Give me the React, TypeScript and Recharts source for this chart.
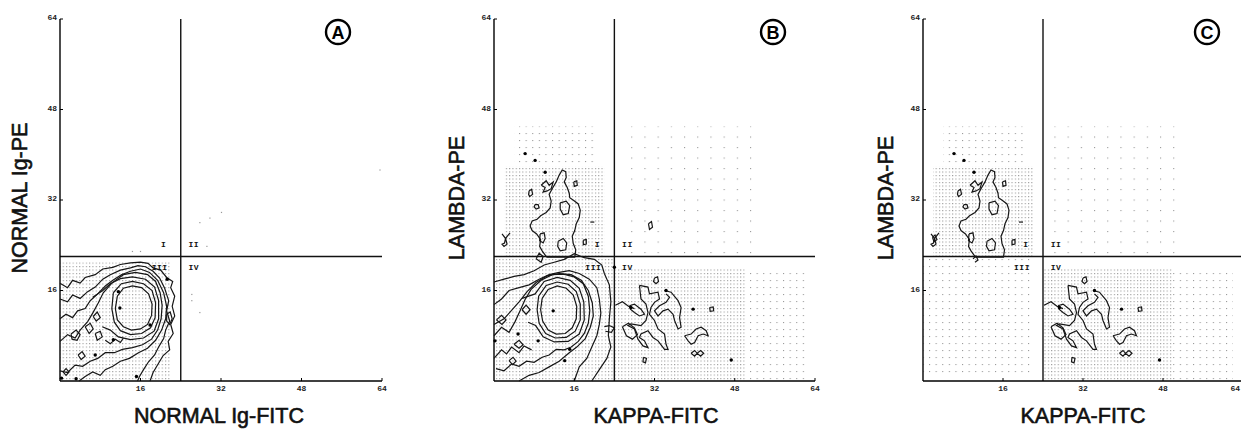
import { ReferenceArea, ReferenceLine, Scatter, ScatterChart, XAxis, YAxis } from "recharts";

type Pt = { x: number; y: number };
const pts = (a: number[][]): Pt[] => a.map(([x, y]) => ({ x, y }));

const xTicks = [16, 32, 48, 64];
const yTicks = [16, 32, 48, 64];
const quadX = 24;
const quadY = 22;

const quadLabels = [
  { x: 20.6, y: 23.7, t: "I" },
  { x: 26.6, y: 23.7, t: "II" },
  { x: 19.8, y: 19.6, t: "III" },
  { x: 26.6, y: 19.6, t: "IV" },
];

// ---- panel A: normal Ig control ----
const contoursA = [
  [[0,17.3],[1.5,16.5],[2.5,17.8],[4,17.3],[5,18.3],[7,18.8],[8.5,19.8],[10.5,20.1],[12,20.6],[14,20.9],[16,21],[17.5,20.8],[18.5,20],[20,19.6],[21.2,18.3],[22.4,17.6],[22,16.5],[22.8,15],[22.3,13.2],[22.8,11.5],[22,10],[22.5,8.4],[21.5,7],[21.8,5.5],[20.5,4.5],[19.5,3],[18.5,1.5],[17.9,0]],
  [[0,14.5],[1.5,14],[2.5,15.2],[4,14.6],[5.5,15.8],[7,16.6],[8.5,18],[10,18.8],[12,19.6],[14,20],[15.5,20.4],[17,20.2],[18.5,19.4],[19.8,18.2],[20.8,16.4],[21.6,14.2],[21.2,12.4],[21.8,10.6],[21,9],[20.6,7.5],[19.6,6],[18.8,4.6],[17.6,3.4],[16.6,2],[15.8,0.8],[15.4,0]],
  [[0,11],[1.2,11.8],[2.5,11.2],[3.5,12.4],[5,12.8],[6,14.2],[7.5,15.4],[9,16.8],[10.5,17.8],[12.2,18.8],[14,19.4],[16,19.8],[17.8,19.2],[19.4,17.8],[20.6,15.6],[21.2,13.2],[21,11],[20.2,9],[19,7.2],[17.4,5.8],[15.6,5],[13.8,4],[12,3.5],[10.5,2.6],[9,2],[8,1],[6.5,1.6],[5,0.8],[3.8,0]],
  [[0,7],[1.5,8.2],[3,7.6],[4,9],[5.5,10.5],[6.5,12],[7.6,13.8],[8.6,15.6],[10.4,17.4],[12.6,18.8],[15,19.2],[17.4,18.8],[19,17.6],[19.9,15.6],[20.3,13.4],[20.1,11],[19.4,9],[18.2,7.4],[16.4,6.4],[14.4,5.9],[12.4,5.6],[10.8,5],[9,5],[7.5,4],[6,3.5],[4.5,2.6],[3,2.8],[1.5,1.5],[0,1.8]],
  [[11.4,15],[12.6,16.4],[14.4,16.8],[16.2,16.5],[17.6,15.4],[18.3,13.6],[18.2,11.6],[17.4,10],[16,9.2],[14.2,9],[12.6,9.6],[11.4,10.8],[11,12.8],[11.4,15]],
  [[10.6,15.6],[12.2,17.2],[14.4,17.6],[16.6,17.2],[18.3,16],[19,13.8],[18.9,11.2],[18,9.4],[16.2,8.4],[14,8.2],[12,8.9],[10.8,10.4],[10.3,12.8],[10.6,15.6]],
  [[6.5,14.8],[8.5,16],[10,17.2],[12,18.1],[14.4,18.4],[17,18],[18.8,16.6],[19.6,14.2],[19.6,11],[18.7,8.8],[16.6,7.6],[14,7.3],[11.6,7.8],[10,9],[8.4,9.6]],
  [[2.2,8.3],[3.2,9],[4,8.2],[3.4,7.2],[2.4,7.4],[2.2,8.3]],
  [[5,9.6],[6,10.2],[6.6,9.2],[5.8,8.4],[5,9.6]],
  [[7,8.4],[8,8.8],[8.4,7.8],[7.4,7.2],[7,8.4]],
  [[6.6,11.4],[7.4,12.2],[8,11.2],[7.2,10.6],[6.6,11.4]],
  [[0.6,1.6],[1.2,2.2],[1.8,1.6],[1.2,1],[0.6,1.6]],
  [[3.6,4.6],[4.4,5.2],[5,4.4],[4.2,3.8],[3.6,4.6]],
  [[21.2,11.8],[21.9,12.2],[22.3,11],[21.8,10],[21.2,10.6],[21.2,11.8]],
  [[9,7.2],[10,6.6],[11,7.4],[12,6.8],[12.6,7.6]],
].map(pts);

const dotsA = pts([[11.9,12.9],[11.6,15.8],[15.2,0.8],[17.9,9.9],[10.6,7.3],[21.3,18],[3.2,0.4],[0.3,0.5],[7,4.6]]);
const faintA = pts([[27.8,28],[29.8,28.8],[32.1,29.8],[29.2,23.8],[26.2,15.3],[26.2,14.2],[27.8,12.1],[63.6,37.3],[14.4,22.9],[16,22.9]]);
const stippleA = [{ x1: 0, x2: 22, y1: 0, y2: 21, d: "dense" }];

// ---- shared lambda (quadrant I) and kappa (quadrant IV) clusters ----
const lambdaCluster = [
  [[10.5,21.9],[9.6,23],[9.1,23.8],[9.3,25],[8.5,26],[7.6,26.6],[7.2,27.4],[7.6,28.3],[8.6,28.6],[9.3,29.2],[10.4,29.8],[11.2,30.6],[11.4,31.8],[11,33],[11.6,34],[12.4,35.2],[13,36.4],[13.6,37.3],[14.3,37],[14.4,36],[14,35.2],[14.6,34.2],[15,33.2],[15.1,32.4],[15.9,31.9],[16.8,31.3],[17.2,30.2],[17,28.9],[16.4,27.8],[16.1,26.6],[15.6,25.6],[15.8,24.3],[16.3,23.2],[16.1,21.9],[10.5,21.9]],
  [[9.4,34.6],[10.4,35.4],[11,34.6],[11.8,35.2],[11.4,34],[10.6,33.6],[9.8,33.4],[10.2,34.2],[9.4,34.6]],
  [[13.2,31.5],[14.4,31.8],[15.1,31],[14.8,29.6],[13.8,29.4],[13.2,30.4],[13.2,31.5]],
  [[12.8,24.7],[13.8,25.2],[14.5,24.4],[14.3,23.2],[13.2,23],[12.7,23.8],[12.8,24.7]],
  [[9.2,26],[10,26.2],[10.2,25.2],[9.8,24.4],[9.1,24.8],[9.2,26]],
  [[8.2,31.2],[8.8,31.2],[9,30.6],[8.4,30.4],[8,30.8],[8.2,31.2]],
  [[7,33.6],[7.5,33.9],[7.7,33],[7.1,32.6],[6.9,33],[7,33.6]],
  [[15.9,35.2],[16.5,35.4],[16.6,34.6],[16,34.4],[15.9,35.2]],
  [[17.8,24.9],[18.4,25],[18.4,24.2],[17.8,24.1],[17.8,24.9]],
  [[1.6,26],[2.3,25.2],[3.2,26.2]],
  [[2.3,25.2],[2.1,24.4],[1.6,24.2],[2,23.8],[2.6,24.2],[2.3,25.2]],
  [[19.2,28.1],[20,28.1]],
].map(pts);
const lambdaDots = pts([[6.2,40.2],[8.2,39],[10.2,36.9]]);

const kappaCluster = [
  [[29,16.9],[30.7,16.6],[31,15.4],[32.7,15.7],[33,14.5],[32,13.9],[31.3,13],[31,11.8],[32,10.7],[32.7,9.2],[34,8.3],[34.3,6.5],[34.7,5.6],[34,5.6],[32.7,7.1],[31.7,7.7],[30.7,8.9],[29.3,8.3],[29,7.7],[30,7.1],[30.7,5.9],[29.7,6.2],[28.7,7.4],[28,9.2],[26.7,9.8],[27.3,10.1],[29.3,9.8],[30.3,10.7],[30.7,12.1],[30.3,13.6],[29.3,14.5],[29,16.9]],
  [[34,16],[35.3,15.7],[36.7,14.2],[37.3,13],[37,11.2],[37.3,9.5],[36.7,9.2],[36,10.7],[35.7,11.8],[34.7,12.7],[33.7,12.4],[32.7,11.5],[32,12.4],[33,13.3],[34.3,13.9],[35,14.8],[34.3,15.4]],
  [[27,13.3],[28,13.6],[29.3,12.7],[30,11.8],[29,11.5],[28,12.1],[27.2,12.7],[27,13.3]],
  [[38,8],[39.3,8.3],[40.3,9.2],[41.3,9.5],[42.3,8.9],[42.7,8],[41.7,8.3],[40.7,8],[40,6.8],[39.3,6.5],[38.7,7.1],[38,8]],
  [[39.3,4.9],[40,5.4],[40.5,4.9],[41.2,5.4],[41.8,4.9],[41.2,4.4],[40.5,4.9],[40,4.4],[39.3,4.9]],
  [[32,18.2],[32.6,18.4],[32.8,17.6],[32.3,17.2],[31.8,17.6],[32,18.2]],
  [[29.8,4.2],[30.4,4],[30.2,3.2],[29.7,3.4],[29.8,4.2]],
  [[43,13],[43.7,13.1],[43.8,12.4],[43.1,12.3],[43,13]],
  [[24.2,13.4],[25.6,14],[26.8,13.2],[28,12.8]],
  [[25.6,9.6],[26.8,10.2],[28,9.4],[28.6,8.2],[27.6,7.4],[26.4,8],[25.6,9.6]],
].map(pts);
const kappaDots = pts([[34.3,16],[39.7,12.7],[47.3,3.7],[27.3,13]]);

// ---- panel B: quadrant III contours (both light chains negative) ----
const contoursB3 = [
  [[0,17.5],[2,18],[4,18.5],[6,18.8],[8,19.5],[10,20.5],[12,21],[14,21.5],[16,22.5],[18,21.8],[20,21.5],[21.5,20.5],[22,19],[23,17],[23.3,14],[23,11],[22.8,8],[23.3,6],[22.5,4],[21,2],[19.5,0]],
  [[0,13.5],[1.5,14.5],[3,16],[5,16.5],[7,17],[9,18],[11,18.8],[13,19.2],[15,19.5],[17,19],[19,18],[20.5,16.5],[21,14.5],[21.3,12],[21,10],[20.5,8],[19.5,6],[18.5,4],[17,2.5],[16,0]],
  [[0,10],[2,11],[3.5,12.5],[5,14],[6.6,15.8],[8.4,17.4],[10.6,18.6],[13,19],[15.4,18.8],[17.4,17.8],[18.8,16],[19.6,13.8],[19.8,11.5],[19.2,9.5],[18.2,7.5],[16.5,6],[15,5],[13,3.5],[11,2.5],[9,1.5],[7,1],[5,0]],
  [[0,8],[1.5,9.5],[3,8.6],[4.2,10.5],[5.2,12.4],[6.2,14.4],[7.4,16.2],[9.4,17.8],[11.6,18.8],[13.8,18.9],[16,18.4],[17.8,17.2],[18.8,15],[19.1,12.4],[18.8,10.2],[18,8.4],[16.8,7],[15.4,6],[14,5.5],[12.4,5.6],[11,4.6],[9.6,4.2],[8,3.3],[6.5,3.5],[5,2.6],[3.5,3],[2,1.8],[0.4,2.2]],
  [[9.6,14.6],[10.8,16.2],[12.6,16.8],[14.4,16.4],[15.8,15.2],[16.5,13.2],[16.4,11],[15.6,9.4],[14.2,8.4],[12.4,8.3],[10.8,9],[9.7,10.6],[9.3,12.6],[9.6,14.6]],
  [[8.9,15],[10.4,16.9],[12.6,17.5],[14.8,17.1],[16.4,15.8],[17.2,13.6],[17.2,10.8],[16.2,8.8],[14.4,7.7],[12.2,7.6],[10.3,8.4],[9,10.2],[8.6,12.6],[8.9,15]],
  [[5.6,14.6],[8.2,15.4],[10,17.6],[12.6,18.3],[15.2,17.8],[17,16.4],[17.9,14],[18,10.8],[17,8.3],[14.8,7],[12,6.9],[9.8,7.8],[8.3,9.8],[6.8,10.4]],
  [[0.5,10.8],[1.5,11.6],[2.4,10.8],[1.6,10],[0.5,10.8]],
  [[4,6.5],[5,7.2],[5.8,6.4],[5,5.8],[4,6.5]],
  [[3,3.6],[3.8,4.2],[4.4,3.5],[3.7,2.9],[3,3.6]],
  [[5.6,12.6],[6.4,13.4],[7.2,12.6],[6.4,11.8],[5.6,12.6]],
  [[8.4,21.6],[9,22.6],[9.8,22],[9.4,21],[8.4,21.6]],
  [[22,9.6],[23,9.8],[24,9.4],[23.4,8.6],[22.2,8.8]],
  [[0,4],[1.5,5.5],[2.5,4.8],[3.5,6],[5,5],[6,6.2],[7.5,5.5]],
  [[30.8,27.8],[31.4,28.2],[31.6,27.2],[31,26.8],[30.8,27.8]],
].map(pts);
const dotsB3 = pts([[4.8,8.3],[8.8,7.1],[14.1,3.6],[15.1,5.6],[11.8,12.4],[0.2,7.1],[24,20.1]]);

const contoursC3 = [[[10,21.6],[10.6,22.1],[11,21.4],[10.4,21]], [[1.9,25.4],[2.4,25.8],[2.8,25],[2.2,24.6],[1.9,25.4]]].map(pts);

const stippleKL = [
  { x1: 2, x2: 22, y1: 22, y2: 38, d: "dense" },
  { x1: 4, x2: 20, y1: 38, y2: 45, d: "sparse" },
  { x1: 24, x2: 50, y1: 0, y2: 20, d: "dense" },
  { x1: 50, x2: 62, y1: 0, y2: 20, d: "sparse" },
  { x1: 26, x2: 52, y1: 22, y2: 45, d: "faint" },
];
const stippleB = [{ x1: 0, x2: 24, y1: 0, y2: 22, d: "dense" }, ...stippleKL];
const stippleC = [{ x1: 0, x2: 22, y1: 1, y2: 22, d: "sparse" }, ...stippleKL];

const panels = [
  { id: "A", left: 0, width: 400, yw: 60, right: 18, contours: contoursA, dots: dotsA, faint: faintA, stipple: stippleA, xTitle: "NORMAL Ig-FITC", yTitle: "NORMAL Ig-PE", xTitleX: 219, yTitleX: 21, badgeX: 338 },
  { id: "B", left: 420, width: 410, yw: 74, right: 15, contours: [...contoursB3, ...lambdaCluster, ...kappaCluster], dots: [...dotsB3, ...lambdaDots, ...kappaDots], faint: [], stipple: stippleB, xTitle: "KAPPA-FITC", yTitle: "LAMBDA-PE", xTitleX: 656, yTitleX: 458, badgeX: 773 },
  { id: "C", left: 830, width: 420, yw: 93, right: 7, contours: [...contoursC3, ...lambdaCluster, ...kappaCluster], dots: [...lambdaDots, ...kappaDots], faint: [], stipple: stippleC, xTitle: "KAPPA-FITC", yTitle: "LAMBDA-PE", xTitleX: 1083, yTitleX: 887, badgeX: 1207 },
];

const tickFont = { fontSize: 8, fontFamily: "'Liberation Mono', monospace", fontWeight: 700, fill: "#222" };

// x tick: small inward mark, label kept inside the visible page edge
const makeXTick = (limit: number) => (p: any) => {
  const edge = p.x + 6 > limit;
  return (
    <g>
      <line x1={p.x} x2={p.x} y1={p.y} y2={p.y - 3} stroke="#000" />
      <text x={edge ? limit : p.x} y={p.y + 10} textAnchor={edge ? "end" : "middle"} {...tickFont}>{p.payload.value}</text>
    </g>
  );
};
const YTick = (p: any) => (
  <g>
    <line x1={p.x} x2={p.x + 3} y1={p.y} y2={p.y} stroke="#000" />
    <text x={p.x - 3} y={p.y + 1} textAnchor="end" {...tickFont}>{p.payload.value}</text>
  </g>
);

const Empty = () => <g />;
const Dot = (p: any) => <circle cx={p.cx} cy={p.cy} r={1.7} fill="#000" />;
const Faint = (p: any) => <rect x={p.cx - 0.6} y={p.cy - 0.6} width={1.2} height={1.2} fill="#999" />;
const QuadText = (p: any) => (
  <text x={p.cx} y={p.cy} textAnchor="middle" fontSize={8} fontFamily="'Liberation Mono', monospace" fontWeight={700} fill="#111" letterSpacing={0.5}>
    {p.payload.t}
  </text>
);

const patternFor: Record<string, string> = { dense: "url(#stDense)", sparse: "url(#stSparse)", faint: "url(#stFaint)" };

const titleStyle = {
  position: "absolute" as const,
  fontFamily: "'Liberation Sans', Arial, sans-serif",
  fontSize: 21.5,
  color: "#111",
  WebkitTextStroke: "0.6px #111",
  whiteSpace: "nowrap" as const,
  lineHeight: 1,
};

function Panel({ p }: { p: (typeof panels)[number] }) {
  return (
    <div style={{ position: "absolute", left: p.left, top: 0 }}>
      <ScatterChart width={p.width} height={430} margin={{ top: 19, right: p.right, bottom: 0, left: 0 }}>
        <XAxis type="number" dataKey="x" domain={[0, 64]} ticks={xTicks} height={49} tickSize={0} tickMargin={0} tickLine={false} tick={makeXTick(1240 - p.left)} axisLine={{ stroke: "#000", strokeWidth: 1.4 }} />
        <YAxis type="number" dataKey="y" domain={[0, 64]} ticks={yTicks} width={p.yw} tickSize={0} tickMargin={0} tickLine={false} tick={YTick} axisLine={{ stroke: "#000", strokeWidth: 1.4 }} />
        {p.stipple.map((s, i) => (
          <ReferenceArea key={"s" + i} x1={s.x1} x2={s.x2} y1={s.y1} y2={s.y2} fill={patternFor[s.d]} fillOpacity={1} stroke="none" />
        ))}
        <ReferenceLine x={quadX} stroke="#111" strokeWidth={1.4} />
        <ReferenceLine y={quadY} stroke="#111" strokeWidth={1.4} />
        <Scatter data={p.faint} shape={Faint} isAnimationActive={false} />
        {p.contours.map((c, i) => (
          <Scatter key={"c" + i} data={c} shape={Empty} line={{ stroke: "#161616", strokeWidth: 1.2 }} isAnimationActive={false} />
        ))}
        <Scatter data={p.dots} shape={Dot} isAnimationActive={false} />
        <Scatter data={quadLabels} shape={QuadText} isAnimationActive={false} />
      </ScatterChart>
    </div>
  );
}

export default function App() {
  return (
    <div style={{ position: "absolute", left: 0, top: 0, width: 1241, height: 430, background: "#fff", overflow: "hidden" }}>
      <svg width={0} height={0} style={{ position: "absolute" }}>
        <defs>
          <pattern id="stDense" width={3.3} height={3.5} patternUnits="userSpaceOnUse">
            <rect width={1.1} height={1.1} fill="#999" />
          </pattern>
          <pattern id="stSparse" width={6.6} height={7} patternUnits="userSpaceOnUse">
            <rect width={1.1} height={1.1} fill="#999" />
          </pattern>
          <pattern id="stFaint" width={13.2} height={10.5} patternUnits="userSpaceOnUse">
            <rect width={1.1} height={1.1} fill="#999" />
          </pattern>
        </defs>
      </svg>
      {panels.map((p) => (
        <Panel key={p.id} p={p} />
      ))}
      {panels.map((p) => (
        <div key={"t" + p.id}>
          <div style={{ ...titleStyle, left: p.xTitleX, top: 417, transform: "translate(-50%, -50%)" }}>{p.xTitle}</div>
          <div style={{ ...titleStyle, left: p.yTitleX, top: 198, transform: "translate(-50%, -50%) rotate(-90deg)" }}>{p.yTitle}</div>
          <svg width={30} height={30} style={{ position: "absolute", left: p.badgeX - 15, top: 17 }}>
            <circle cx={15} cy={15} r={12} fill="none" stroke="#000" strokeWidth={2.4} />
            <text x={15} y={21.5} textAnchor="middle" fontSize={18} fontWeight={700} fontFamily="'Liberation Sans', Arial, sans-serif">{p.id}</text>
          </svg>
        </div>
      ))}
    </div>
  );
}
